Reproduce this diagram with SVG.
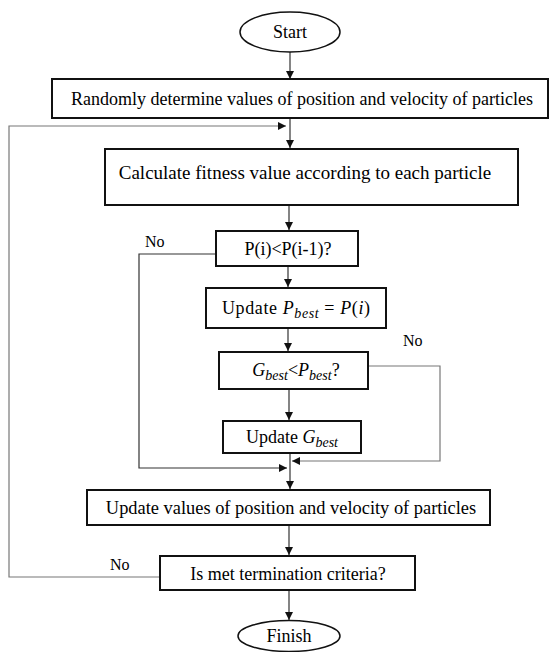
<svg xmlns="http://www.w3.org/2000/svg" width="550" height="652" viewBox="0 0 550 652">
<style>
.box{fill:#fff;stroke:#111;stroke-width:2}
.t{font-size:18px;fill:#000;text-anchor:middle}
.lbl{font-size:16px;fill:#000}
.m{font-style:italic}
.sub{font-style:italic;font-size:14px}
.ln{fill:none;stroke:#333;stroke-width:1.2}
.fb{fill:none;stroke:#777;stroke-width:1.2}
</style>
<defs>
<marker id="ah" viewBox="0 0 10 10" refX="10" refY="5" markerWidth="8" markerHeight="8" markerUnits="userSpaceOnUse" orient="auto">
<path d="M0,0 L10,5 L0,10 z" fill="#111"/>
</marker>
</defs>
<rect width="550" height="652" fill="#fff"/>
<g id="connectors">
<path class="ln" d="M290,52 V79" marker-end="url(#ah)"/>
<path class="ln" d="M290,118 V148" marker-end="url(#ah)"/>
<path class="ln" d="M289,205 V230" marker-end="url(#ah)"/>
<path class="ln" d="M288,266 V287" marker-end="url(#ah)"/>
<path class="ln" d="M288,328 V351" marker-end="url(#ah)"/>
<path class="ln" d="M289,389 V420" marker-end="url(#ah)"/>
<path class="ln" d="M290,453 V489" marker-end="url(#ah)"/>
<path class="ln" d="M289,525 V555" marker-end="url(#ah)"/>
<path class="ln" d="M289,590 V620" marker-end="url(#ah)"/>
<path class="ln" d="M216,254 H139 V468 H287" marker-end="url(#ah)"/>
<path class="fb" d="M369,366 H440 V461 H292" marker-end="url(#ah)"/>
<path class="fb" d="M160,577 H9 V126 H286" marker-end="url(#ah)"/>
</g>
<g font-family="'Liberation Serif', 'DejaVu Serif', serif">
<g id="start">
<ellipse cx="290" cy="32" rx="50" ry="20" fill="#fff" stroke="#111" stroke-width="1.5"/>
<text class="t" x="290" y="38">Start</text>
</g>
<g id="init">
<rect class="box" x="52" y="79" width="496" height="39"/>
<text class="t" x="302" y="105">Randomly determine values of position and velocity of particles</text>
</g>
<g id="fitness">
<rect class="box" x="105" y="149" width="413" height="56"/>
<text class="t" x="305" y="179" style="font-size:19px">Calculate fitness value according to each particle</text>
</g>
<g id="cmpP">
<rect class="box" x="216" y="231" width="142" height="35"/>
<text class="t" x="288" y="255">P(i)&lt;P(i-1)?</text>
</g>
<g id="updP">
<rect class="box" x="206" y="288" width="180" height="40"/>
<text class="t" x="296" y="314" textLength="148" lengthAdjust="spacing">Update <tspan class="m">P</tspan><tspan class="sub" dy="4">best</tspan><tspan dy="-4"> = </tspan><tspan class="m">P</tspan>(<tspan class="m">i</tspan>)</text>
</g>
<g id="cmpG">
<rect class="box" x="219" y="352" width="149" height="37"/>
<text class="t" x="296" y="376"><tspan class="m">G</tspan><tspan class="sub" dy="4">best</tspan><tspan dy="-4">&lt;</tspan><tspan class="m">P</tspan><tspan class="sub" dy="4">best</tspan><tspan dy="-4">?</tspan></text>
</g>
<g id="updG">
<rect class="box" x="223" y="421" width="138" height="32"/>
<text class="t" x="292" y="443">Update <tspan class="m">G</tspan><tspan class="sub" dy="4">best</tspan></text>
</g>
<g id="updVel">
<rect class="box" x="87" y="490" width="403" height="35"/>
<text class="t" x="291" y="514" style="font-size:18.4px">Update values of position and velocity of particles</text>
</g>
<g id="term">
<rect class="box" x="160" y="556" width="255" height="34"/>
<text class="t" x="288" y="580">Is met termination criteria?</text>
</g>
<g id="finish">
<ellipse cx="289" cy="636" rx="51" ry="15.5" fill="#fff" stroke="#111" stroke-width="1.5"/>
<text class="t" x="289" y="642">Finish</text>
</g>
<g id="labels">
<text class="lbl" x="145" y="247">No</text>
<text class="lbl" x="403" y="346">No</text>
<text class="lbl" x="110" y="570">No</text>
</g>
</g>
</svg>
